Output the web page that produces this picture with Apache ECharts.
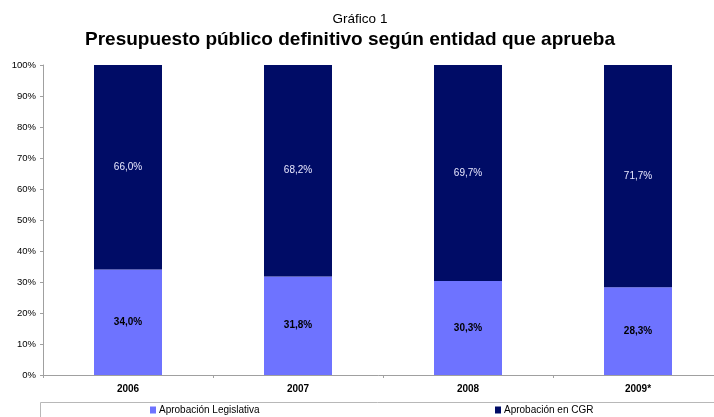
<!DOCTYPE html>
<html>
<head>
<meta charset="utf-8">
<script src="https://cdn.jsdelivr.net/npm/echarts@6/dist/echarts.min.js"></script>
<style>
  html, body { margin: 0; padding: 0; background: #fff; }
  #chart { width: 714px; height: 417px; }
</style>
</head>
<body>
<div id="chart"></div>
<script>
// datos
const years = ['2006', '2007', '2008', '2009*'];
const legislativa = [34.0, 31.8, 30.3, 28.3];
const cgr = [66.0, 68.2, 69.7, 71.7];
const yTicks = ['0%', '10%', '20%', '30%', '40%', '50%', '60%', '70%', '80%', '90%', '100%'];

const fmt = (v) => v.toFixed(1).replace('.', ',') + '%';

const chart = echarts.init(document.getElementById('chart'));
chart.setOption({
  backgroundColor: '#fff',
  animation: false,
  textStyle: { fontFamily: 'Liberation Sans, Arial, sans-serif' },
  title: [
    {
      text: 'Gráfico 1',
      left: 355,
      top: 7,
      textAlign: 'center',
      textStyle: { fontSize: 13.5, fontWeight: 'normal', color: '#000' }
    },
    {
      text: 'Presupuesto público definitivo según entidad que aprueba',
      left: 345,
      top: 25,
      textAlign: 'center',
      textStyle: { fontSize: 19, fontWeight: 'bold', color: '#000' }
    }
  ],
  grid: { left: 43, top: 65, width: 680, height: 310, outerBoundsMode: 'none', containLabel: false },
  legend: [
    {
      data: ['Aprobación Legislativa'],
      left: 150, top: 405, padding: 0,
      icon: 'rect', itemWidth: 6, itemHeight: 7, itemGap: 3,
      textStyle: { fontSize: 10, color: '#000', padding: [0, 0, 0, -2] }
    },
    {
      data: ['Aprobación en CGR'],
      left: 495, top: 405, padding: 0,
      icon: 'rect', itemWidth: 6, itemHeight: 7, itemGap: 3,
      textStyle: { fontSize: 10, color: '#000', padding: [0, 0, 0, -2] }
    }
  ],
  graphic: [
    {
      type: 'rect',
      shape: { x: 40.5, y: 402.5, width: 700, height: 30 },
      style: { fill: 'none', stroke: '#b8b8b8', lineWidth: 1 },
      silent: true
    }
  ],
  xAxis: {
    type: 'category',
    data: years,
    axisLine: { lineStyle: { color: '#a0a0a0' } },
    axisTick: { show: true, length: 3, lineStyle: { color: '#a0a0a0' } },
    axisLabel: { fontSize: 10, fontWeight: 'bold', color: '#000', margin: 9 }
  },
  yAxis: {
    type: 'value',
    min: 0,
    max: 100,
    interval: 10,
    axisLine: { show: true, lineStyle: { color: '#a0a0a0' } },
    axisTick: { show: true, length: 3, lineStyle: { color: '#a0a0a0' } },
    splitLine: { show: false },
    axisLabel: {
      fontSize: 9.5, color: '#000', margin: 7,
      formatter: (v) => yTicks[Math.round(v / 10)]
    }
  },
  series: [
    {
      name: 'Aprobación Legislativa',
      type: 'bar',
      stack: 'total',
      barWidth: '40%',
      data: legislativa,
      itemStyle: { color: '#6e73ff' },
      label: {
        show: true,
        position: 'inside',
        fontSize: 10,
        fontWeight: 'bold',
        color: '#000',
        formatter: (p) => fmt(p.value)
      }
    },
    {
      name: 'Aprobación en CGR',
      type: 'bar',
      stack: 'total',
      barWidth: '40%',
      data: cgr,
      itemStyle: { color: '#000c66' },
      label: {
        show: true,
        position: 'inside',
        fontSize: 10,
        color: '#e8e8ff',
        formatter: (p) => fmt(p.value)
      }
    }
  ]
});
</script>
</body>
</html>
